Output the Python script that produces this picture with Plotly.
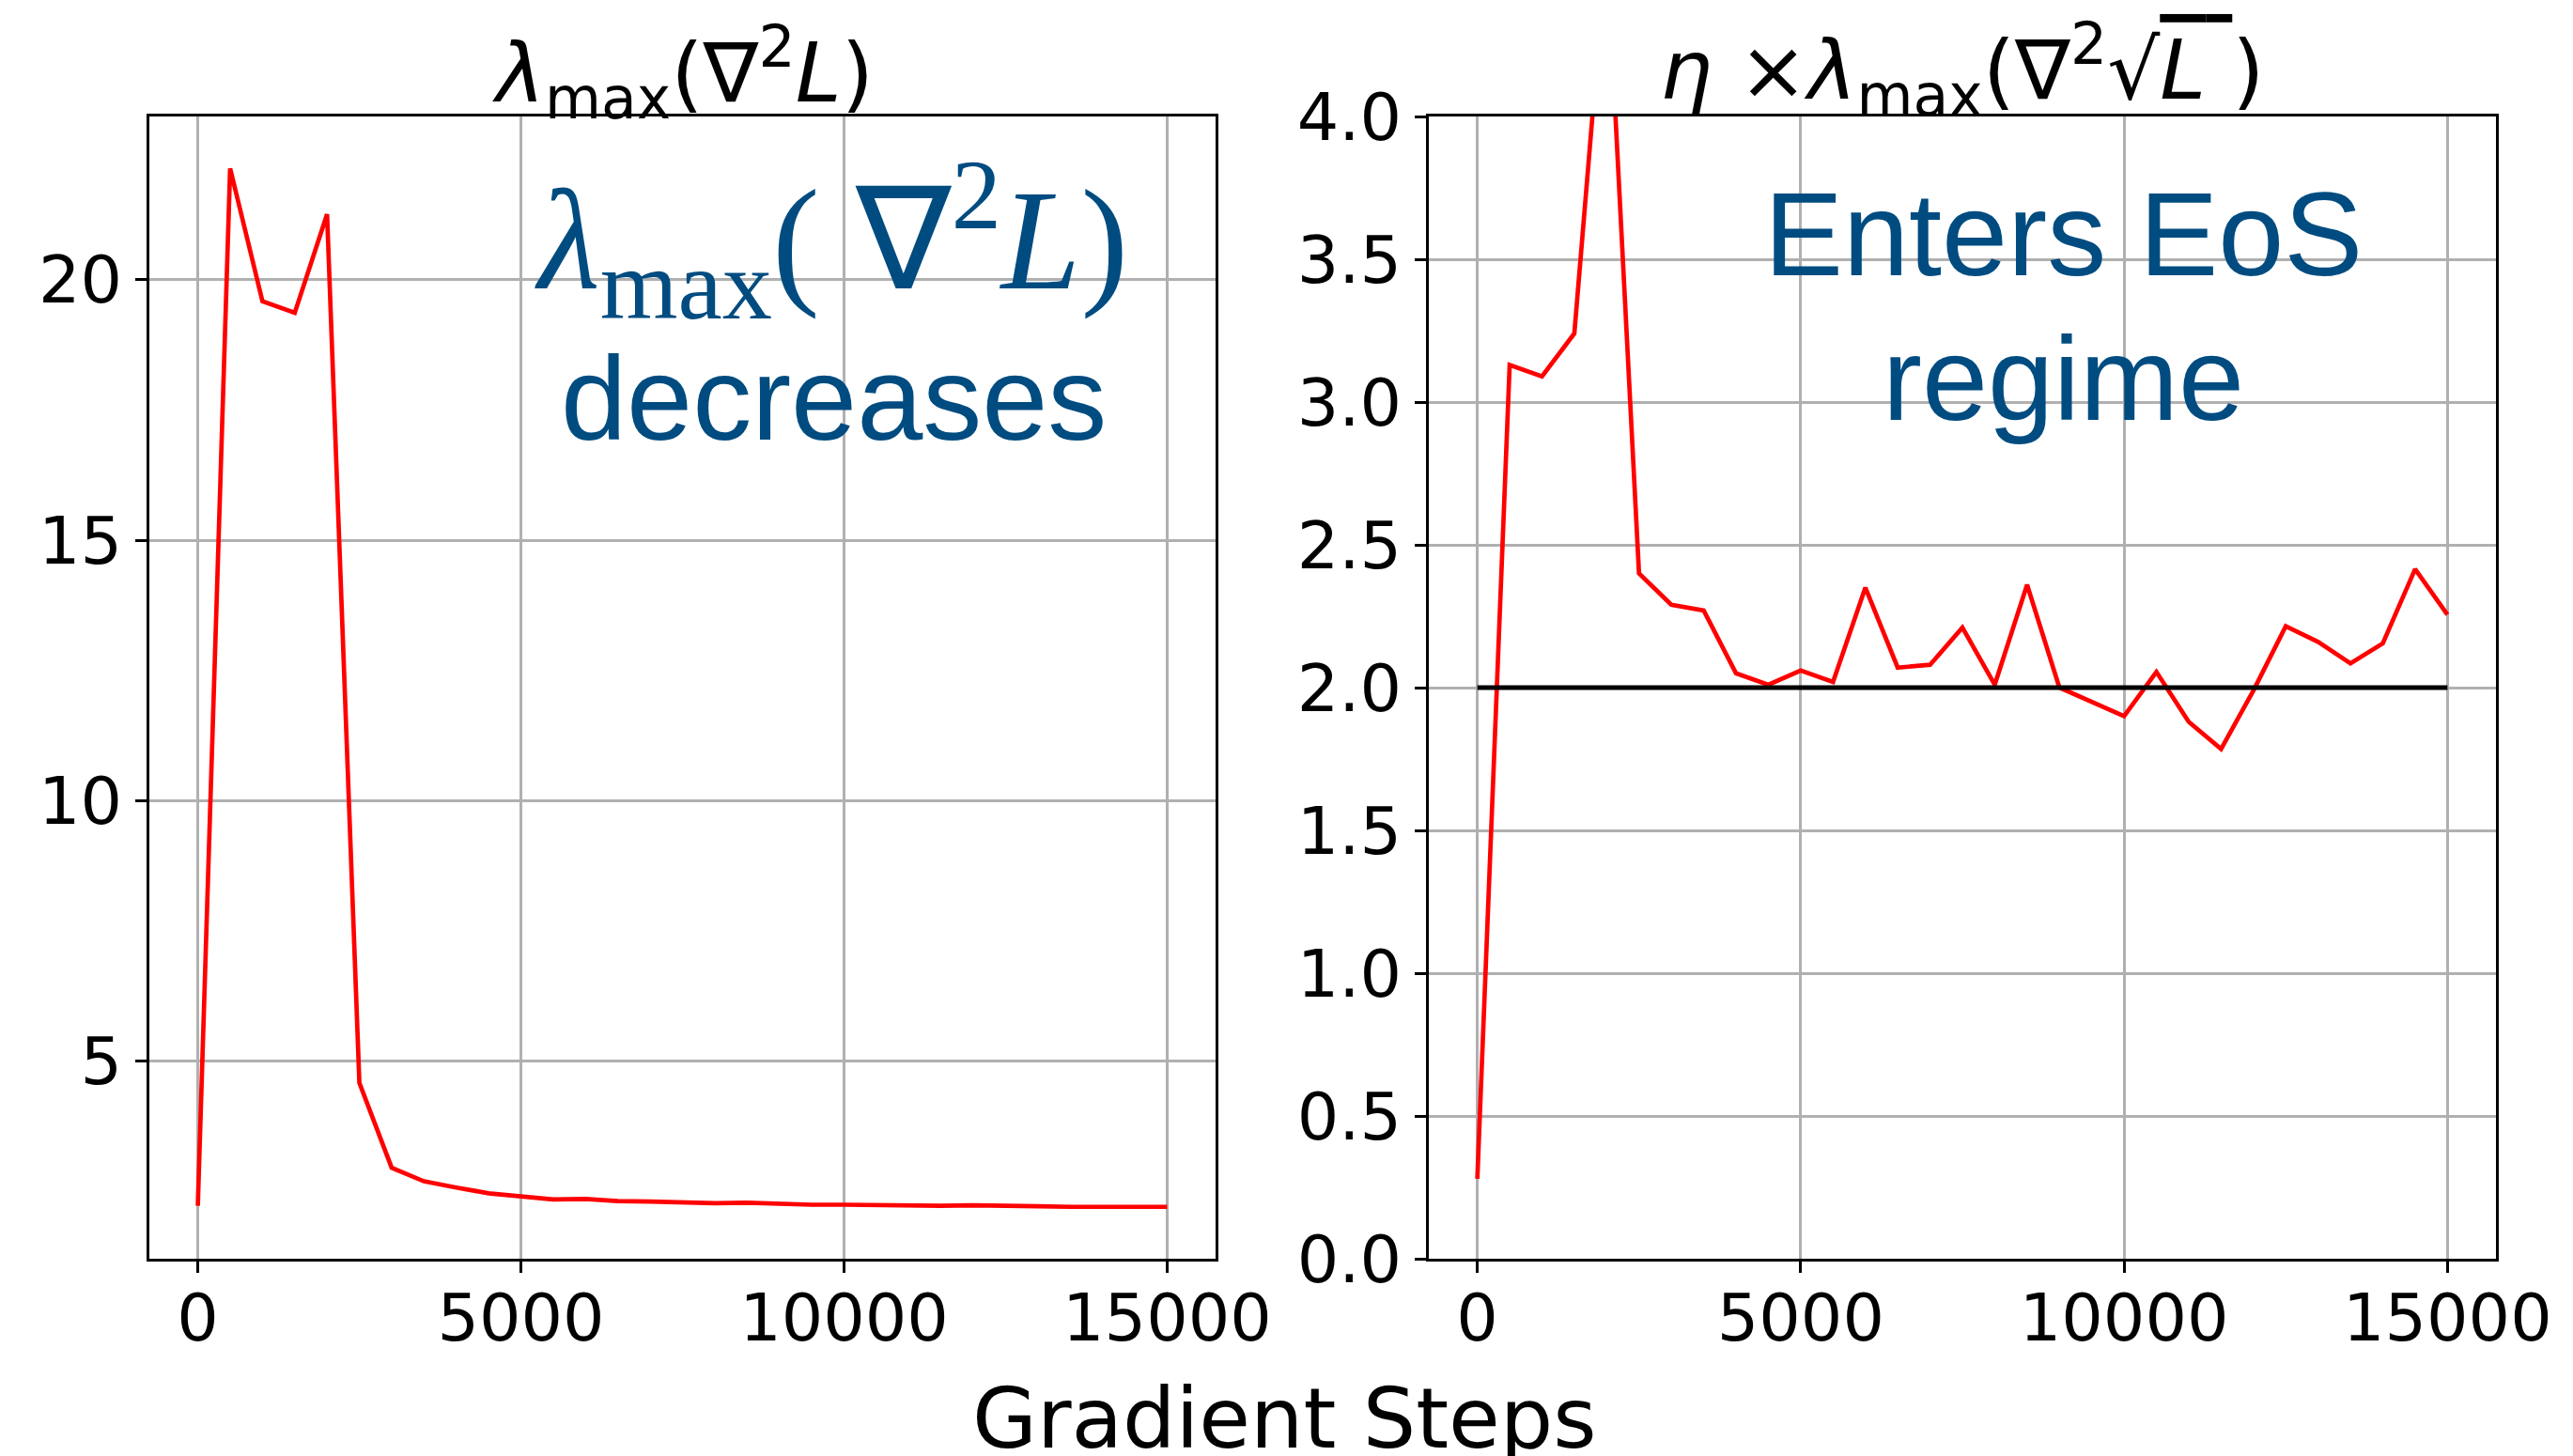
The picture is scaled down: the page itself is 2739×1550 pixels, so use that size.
import plotly.graph_objects as go

# ---------------- data ----------------
steps = [0, 500, 1000, 1500, 2000, 2500, 3000, 3500, 4000, 4500, 5000, 5500, 6000,
         6500, 7000, 7500, 8000, 8500, 9000, 9500, 10000, 10500, 11000, 11500,
         12000, 12500, 13000, 13500, 14000, 14500, 15000]

sharpness = [2.23, 22.14, 19.59, 19.37, 21.26, 4.59, 2.96, 2.70, 2.58, 2.47, 2.41,
             2.35, 2.36, 2.32, 2.31, 2.29, 2.28, 2.29, 2.26, 2.25, 2.25, 2.24,
             2.23, 2.23, 2.24, 2.24, 2.22, 2.21, 2.21, 2.21, 2.21]

eta_sharp_sqrt = [0.28, 3.13, 3.09, 3.24, 4.60, 2.40, 2.29, 2.27, 2.05, 2.01, 2.06,
                  2.02, 2.35, 2.07, 2.08, 2.21, 2.01, 2.36, 2.00, 1.95, 1.90, 2.055,
                  1.88, 1.785, 1.99, 2.215, 2.16, 2.085, 2.155, 2.415, 2.255]

eos_x = [0, 15000]
eos_y = [2.0, 2.0]

x_ticks = [0, 5000, 10000, 15000]
left_y_ticks = [5, 10, 15, 20]
right_y_ticks = [0.0, 0.5, 1.0, 1.5, 2.0, 2.5, 3.0, 3.5, 4.0]

# ---------------- figure ----------------
W, H = 2739, 1550
TICK_FONT = dict(family="DejaVu Sans", size=70, color="black")
GRID = "#b0b0b0"
LW = 2.7

fig = go.Figure()
fig.add_trace(go.Scatter(x=steps, y=sharpness, mode="lines",
                         line=dict(color="#ff0000", width=4.7),
                         xaxis="x", yaxis="y", showlegend=False))
fig.add_trace(go.Scatter(x=steps, y=eta_sharp_sqrt, mode="lines",
                         line=dict(color="#ff0000", width=4.7),
                         xaxis="x2", yaxis="y2", showlegend=False))
fig.add_trace(go.Scatter(x=eos_x, y=eos_y, mode="lines",
                         line=dict(color="black", width=5.2),
                         xaxis="x2", yaxis="y2", showlegend=False))

def axis_common():
    return dict(showline=True, linecolor="black", linewidth=LW, mirror=True,
                ticks="outside", ticklen=12, tickwidth=LW, tickcolor="black",
                showgrid=True, gridcolor=GRID, gridwidth=LW, zeroline=False,
                tickfont=TICK_FONT, automargin=False)

xl = axis_common(); xl.update(domain=[159 / W, 1294 / W], range=[-750, 15750],
                              tickvals=x_ticks, ticktext=[str(v) for v in x_ticks],
                              anchor="y", ticklabelstandoff=-12)
yl = axis_common(); yl.update(domain=[1 - 1340 / H, 1 - 124 / H],
                              range=[min(sharpness) - 0.05 * (max(sharpness) - min(sharpness)),
                                     max(sharpness) + 0.05 * (max(sharpness) - min(sharpness))],
                              tickvals=left_y_ticks, ticktext=[str(v) for v in left_y_ticks],
                              anchor="x")
xr = axis_common(); xr.update(domain=[1521 / W, 2657 / W], range=[-750, 15750],
                              tickvals=x_ticks, ticktext=[str(v) for v in x_ticks],
                              anchor="y2", ticklabelstandoff=-12)
yr = axis_common(); yr.update(domain=[1 - 1340 / H, 1 - 124 / H], range=[0, 4],
                              tickvals=right_y_ticks,
                              ticktext=["%.1f" % v for v in right_y_ticks],
                              anchor="x2")

fig.update_layout(template="none", width=W, height=H,
                  margin=dict(l=0, r=0, t=0, b=0, pad=0, autoexpand=False),
                  paper_bgcolor="white", plot_bgcolor="white",
                  xaxis=xl, yaxis=yl, xaxis2=xr, yaxis2=yr)

ann = []
TITLE_FONT = dict(family="DejaVu Sans", size=88, color="black")
ann.append(dict(text="<i>λ</i><sub>max</sub>(∇<sup>2</sup><i>L</i>)",
                x=726.5 / W, y=1 - 77 / H, xref="paper", yref="paper",
                xanchor="center", yanchor="middle", showarrow=False, font=TITLE_FONT))
ann.append(dict(text="<i>η</i> ×<i>λ</i><sub>max</sub>(∇<sup>2</sup>√<span style='text-decoration:overline'><i>L</i> </span>)",
                x=2089 / W, y=1 - 75 / H, xref="paper", yref="paper",
                xanchor="center", yanchor="middle", showarrow=False, font=TITLE_FONT))
ann.append(dict(text="Gradient Steps", x=1367 / W, y=1 - 1510 / H,
                xref="paper", yref="paper", xanchor="center", yanchor="middle",
                showarrow=False, font=dict(family="DejaVu Sans", size=89, color="black")))

BLUE = "#004c80"
ann.append(dict(text="Enters EoS", x=2196 / W, y=1 - 249 / H, xref="paper", yref="paper",
                xanchor="center", yanchor="middle", showarrow=False,
                font=dict(family="Liberation Sans", size=126, color=BLUE)))
ann.append(dict(text="regime", x=2196 / W, y=1 - 404 / H, xref="paper", yref="paper",
                xanchor="center", yanchor="middle", showarrow=False,
                font=dict(family="Liberation Sans", size=126, color=BLUE)))
ann.append(dict(text="<i>λ</i><sub>max</sub>( ∇<sup>2</sup><i>L</i>)",
                x=885 / W, y=1 - 255 / H, xref="paper", yref="paper",
                xanchor="center", yanchor="middle", showarrow=False,
                font=dict(family="Liberation Serif", size=152, color=BLUE)))
ann.append(dict(text="decreases", x=887 / W, y=1 - 424 / H, xref="paper", yref="paper",
                xanchor="center", yanchor="middle", showarrow=False,
                font=dict(family="Liberation Sans", size=126, color=BLUE)))

fig.update_layout(annotations=ann)
fig.write_html("out.html")
